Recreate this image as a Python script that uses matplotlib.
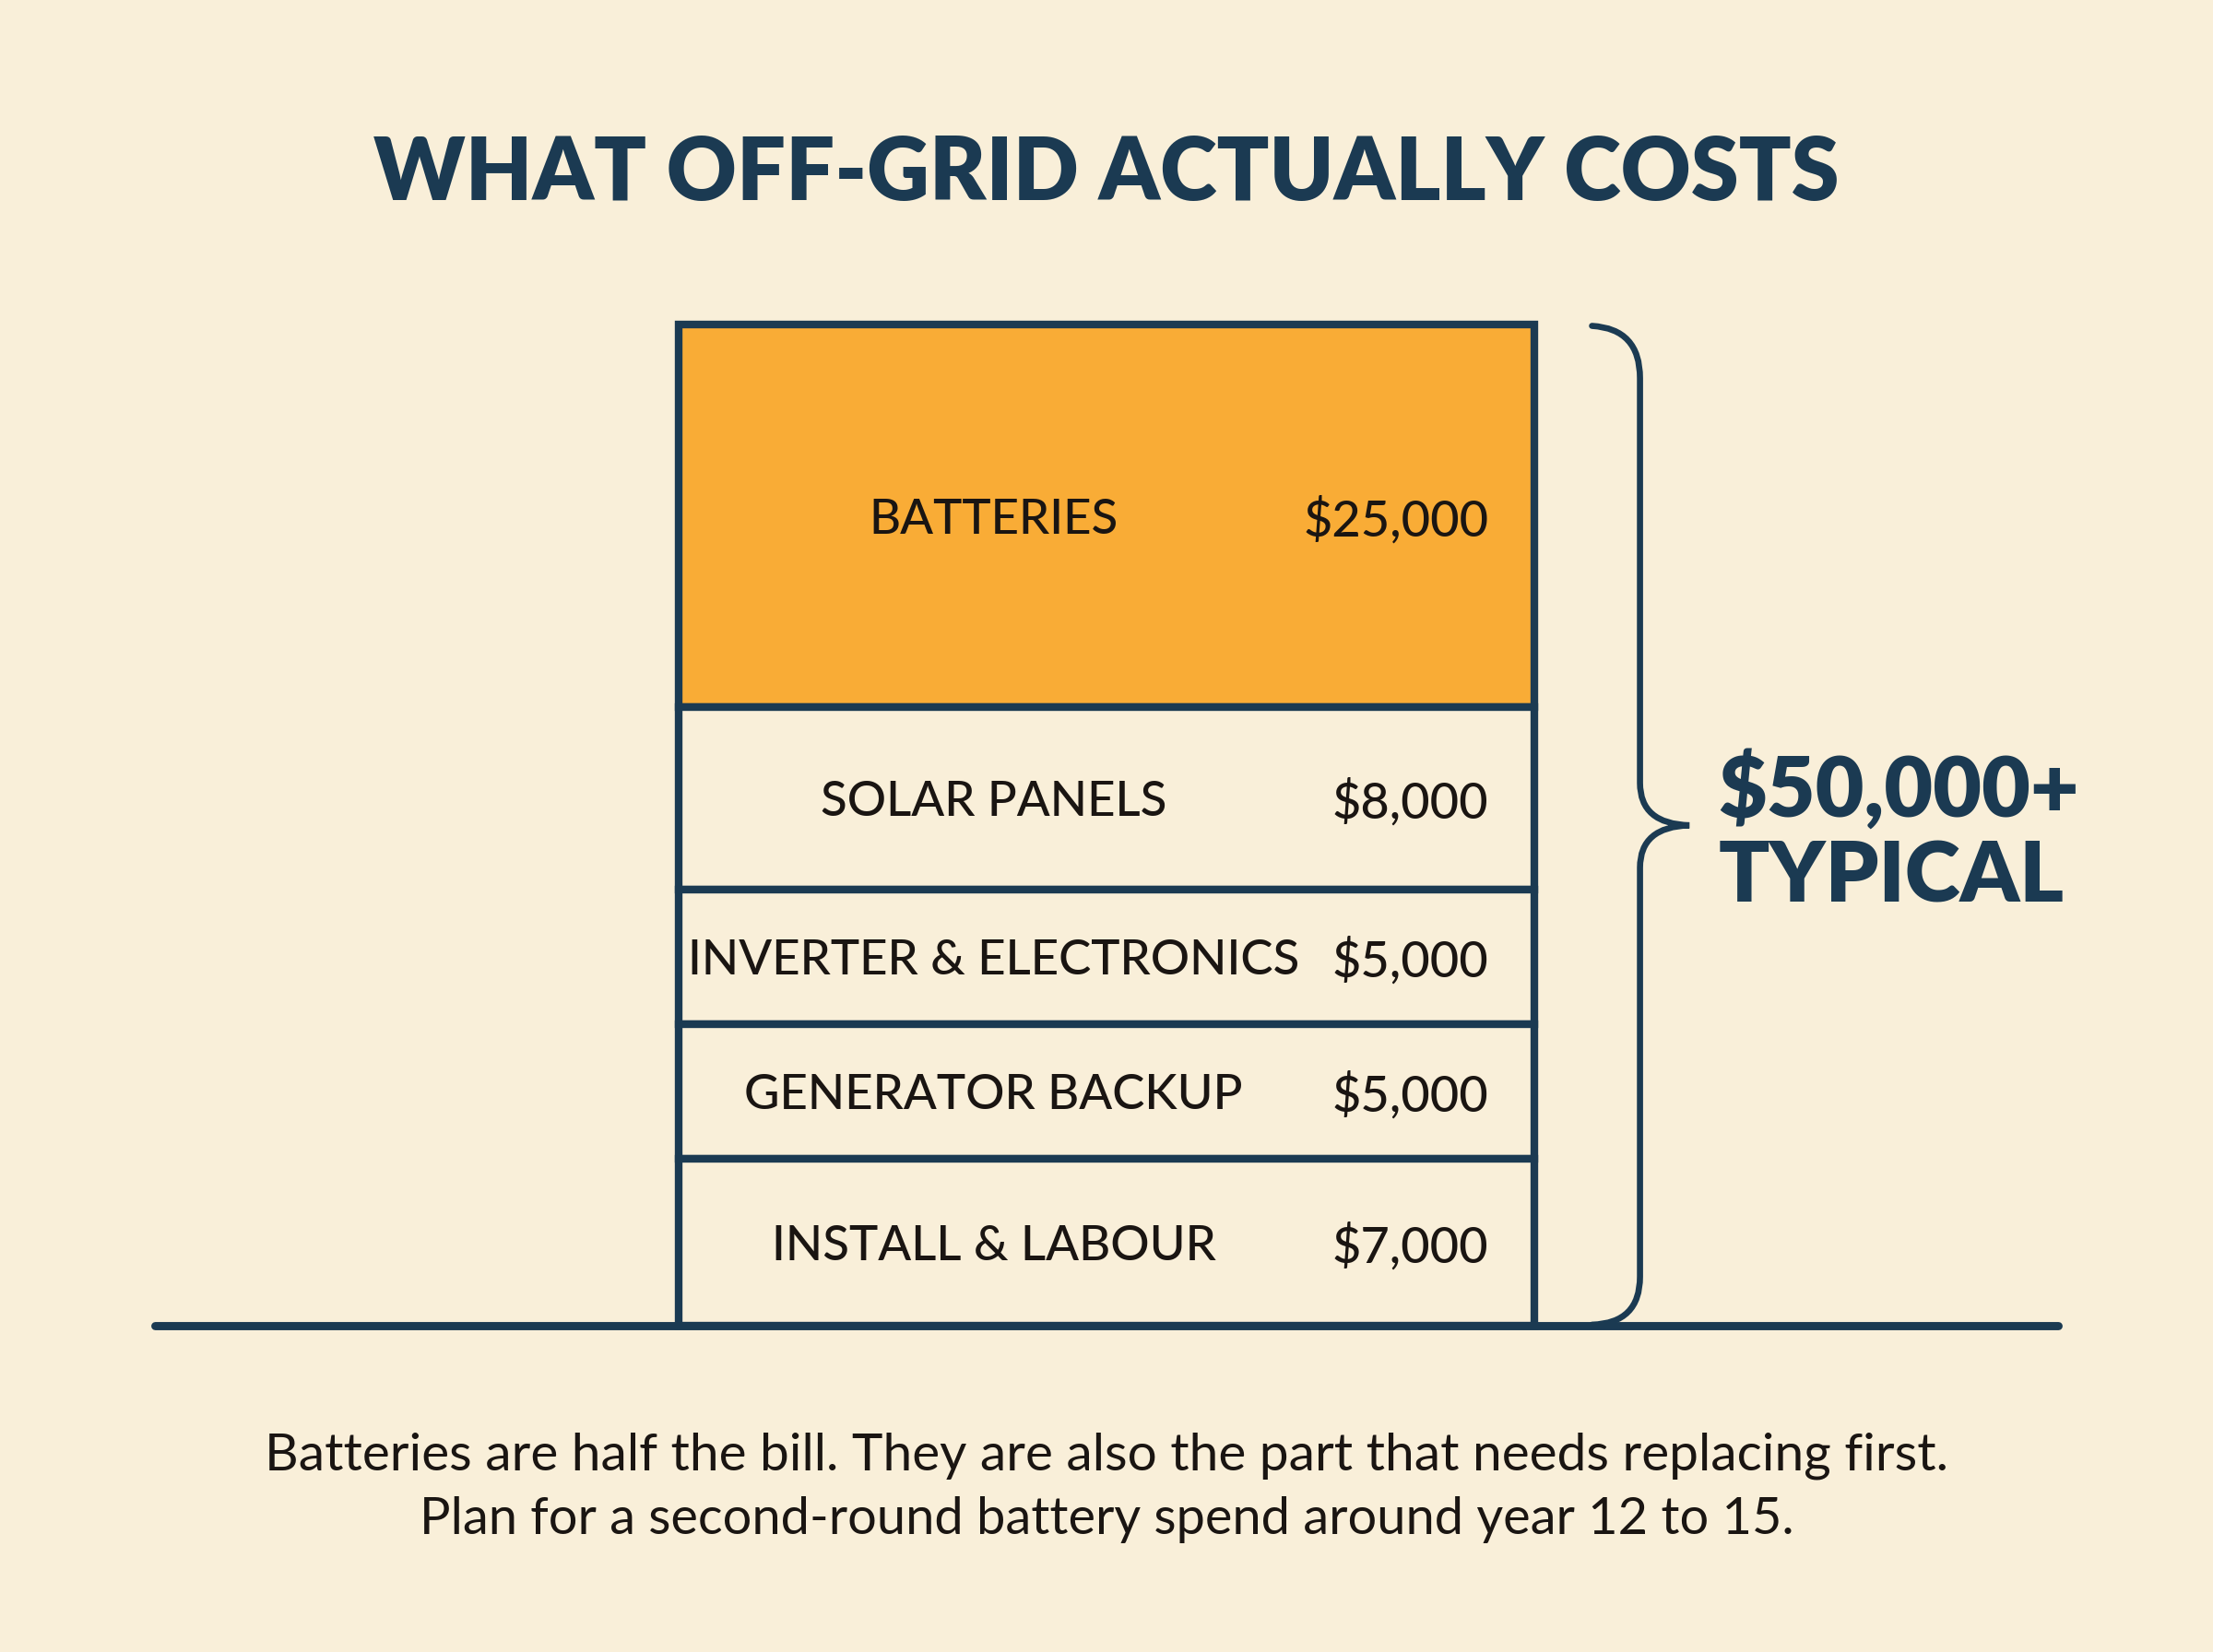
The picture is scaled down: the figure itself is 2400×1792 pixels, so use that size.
import matplotlib
matplotlib.use("Agg")
import matplotlib.pyplot as plt
import numpy as np
from matplotlib.path import Path
from matplotlib.patches import PathPatch

# ---- data (top of the stack first) ----
categories = ["BATTERIES", "SOLAR PANELS", "INVERTER & ELECTRONICS",
              "GENERATOR BACKUP", "INSTALL & LABOUR"]
costs = [25000, 8000, 5000, 5000, 7000]
cost_labels = ["$25,000", "$8,000", "$5,000", "$5,000", "$7,000"]
total_label = ["$50,000+", "TYPICAL"]
title = "WHAT OFF-GRID ACTUALLY COSTS"
note = ["Batteries are half the bill. They are also the part that needs replacing first.",
        "Plan for a second-round battery spend around year 12 to 15."]

# ---- style ----
BG = "#f9efd9"
ORANGE = "#f9ac36"
NAVY = "#1b3a52"
INK = "#1a1512"
FONT = "Lato"

fig = plt.figure(figsize=(12, 8.96), dpi=200, facecolor=BG)

# overlay in reference-pixel units (1568 x 1171)
ov = fig.add_axes([0, 0, 1, 1])
ov.set_xlim(0, 1568)
ov.set_ylim(1171, 0)
ov.axis("off")
ov.set_facecolor("none")

# stacked bar, drawn on a compressed (power) scale like the reference
bx = fig.add_axes([481 / 1568, 1 - 940 / 1171, (1087 - 481) / 1568, (940 - 230) / 1171])
bx.axis("off")
bx.set_facecolor("none")
heights = np.array(costs, dtype=float) ** 0.65
tops = np.cumsum(heights[::-1])[::-1]
bottoms = tops - heights
bx.set_xlim(0, 1)
bx.set_ylim(0, heights.sum())
for i, (cat, h, b, lab) in enumerate(zip(categories, heights, bottoms, cost_labels)):
    bx.bar(0.5, h, width=1, bottom=b, color=ORANGE if i == 0 else BG,
           edgecolor=NAVY, linewidth=3.0, clip_on=False, zorder=2)
    bx.text(0.368, b + h / 2, cat, ha="center", va="center_baseline", fontsize=19,
            family=FONT, weight="medium", color=INK, zorder=3)
    bx.text(0.947, b + h / 2, lab, ha="right", va="center_baseline", fontsize=19.5,
            family=FONT, weight="medium", color=INK, zorder=3)

# ground line
ov.plot([110, 1458], [940, 940], color=NAVY, lw=3.2, solid_capstyle="round", zorder=5)

# curly brace
verts = [(1128, 231), (1162, 233), (1162, 268),
         (1162, 555),
         (1162, 584), (1197, 585),
         (1162, 586), (1162, 615),
         (1162, 905),
         (1162, 938), (1128, 939)]
codes = [Path.MOVETO, Path.CURVE3, Path.CURVE3,
         Path.LINETO,
         Path.CURVE3, Path.CURVE3,
         Path.CURVE3, Path.CURVE3,
         Path.LINETO,
         Path.CURVE3, Path.CURVE3]
ov.add_patch(PathPatch(Path(verts, codes), facecolor="none", edgecolor=NAVY,
                       lw=2.4, capstyle="round"))

b1 = ov.text(1345, 560, total_label[0], ha="center", va="center", fontsize=31,
             family=FONT, weight="heavy", color=NAVY)
b2 = ov.text(1340, 622, total_label[1], ha="center", va="center", fontsize=31,
             family=FONT, weight="heavy", color=NAVY)

t = ov.text(784, 124, title, ha="center", va="center", fontsize=36,
            family=FONT, weight="heavy", color=NAVY)
n1 = ov.text(784, 1032, note[0], ha="center", va="center", fontsize=19,
             family=FONT, color=INK)
n2 = ov.text(784, 1077, note[1], ha="center", va="center", fontsize=19,
             family=FONT, color=INK)

# fit a few texts to their reference widths (in output pixels)
fig.canvas.draw()
r = fig.canvas.get_renderer()
for txt, w in [(t, 1589), (n1, 1825), (n2, 1488), (b1, 392)]:
    cur = txt.get_window_extent(r).width
    txt.set_fontsize(txt.get_fontsize() * w / cur)
b2.set_fontsize(b1.get_fontsize())

fig.savefig("out.png", dpi=200, facecolor=BG)
